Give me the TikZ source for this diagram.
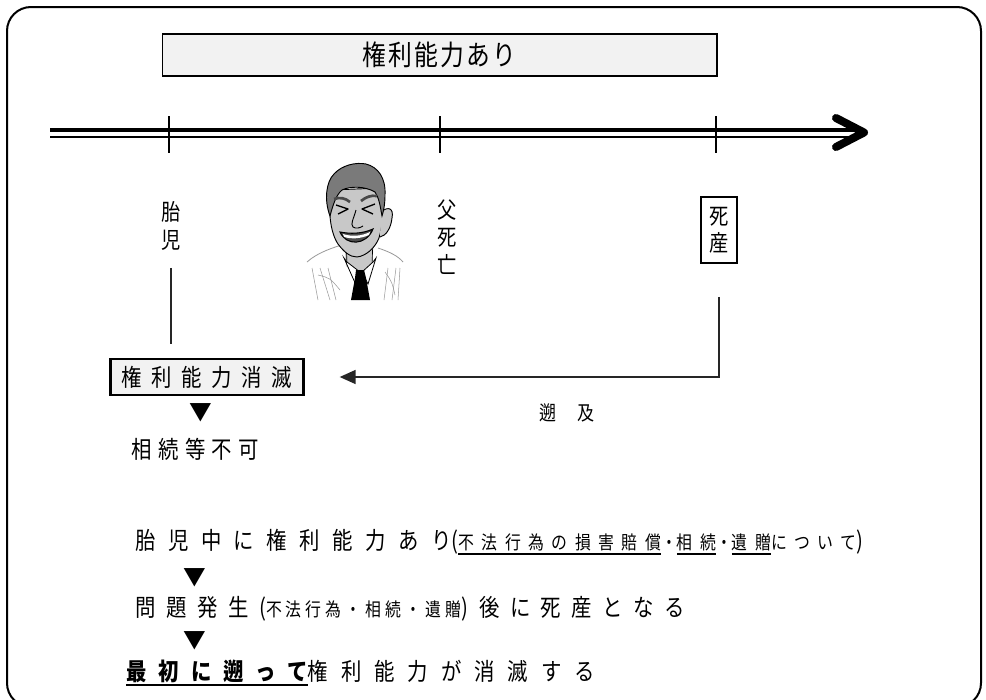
\documentclass[tikz,border=0pt]{standalone}
\usepackage{fontspec}
\newfontfamily\jp{Noto Sans CJK JP}[FakeStretch=0.85]
\newfontfamily\jpn{Noto Sans CJK JP}
\usetikzlibrary{arrows.meta}
\definecolor{boxgray}{HTML}{F2F2F2}
\definecolor{hair}{HTML}{7A7A7A}
\definecolor{skin}{HTML}{C8C8C8}
\definecolor{shirtline}{HTML}{9A9A9A}
\newcommand\ulx[1]{\setbox0\hbox{#1}\rlap{\rule[-4pt]{\wd0}{1.6pt}}\box0}
\newcommand\fbig{\jp\fontsize{18pt}{22pt}\selectfont\addfontfeature{LetterSpace=44}}
\newcommand\fsmall{\jp\fontsize{14pt}{18pt}\selectfont\addfontfeature{LetterSpace=22}}
\newcommand\fbold{\jp\bfseries\fontsize{18pt}{22pt}\selectfont\addfontfeature{LetterSpace=50}}
\tikzset{
  vlabel/.style={font=\jp\fontsize{17pt}{20.5pt}\selectfont, align=center, inner sep=0pt},
  lineText/.style={anchor=west, inner sep=0pt},
  tri/.style={font=\jpn\fontsize{17pt}{20pt}\selectfont, inner sep=0pt},
  conn/.style={line width=1.2pt, draw=black!85},
}
\begin{document}
\begin{tikzpicture}[x=0.75pt,y=-0.75pt]
\useasboundingbox (0,0) rectangle (986,700);
% frame
\draw[line width=1.5pt, rounded corners=18pt] (7,7) rectangle (981,707);

% top box
\node[draw, fill=boxgray, line width=1pt, minimum width=416pt, minimum height=31.5pt,
      font=\jp\fontsize{21pt}{24pt}\selectfont\addfontfeature{LetterSpace=8}] (topbox) at (439.5,55) {権利能力あり};

% timeline
\draw[line width=2.3pt] (50,130) -- (858,130);
\draw[line width=1.9pt] (50,137) -- (858,137);
\draw[line width=6pt, line cap=round, line join=round] (836,118) -- (864,132.5) -- (836,147);
\foreach \tx in {169,440,716} \draw[line width=1pt] (\tx,116) -- (\tx,153);

% vertical labels
\node[vlabel] (taiji) at (171,226) {胎\\児};
\node[vlabel] (chichi) at (447,237) {父\\死\\亡};
\node[vlabel, draw, line width=1.4pt, inner sep=3pt, minimum width=27pt, minimum height=49pt] (shisan) at (719,230) {死\\産};

% man illustration
\begin{scope}
  % shirt
  \fill[white] (305,300) -- (307,262) .. controls (318,252) and (335,247) .. (345,244)
     -- (378,248) .. controls (390,252) and (398,256) .. (403,262) -- (405,300) -- cycle;
  \draw[shirtline, line width=0.6pt] (307,262) .. controls (318,252) and (335,247) .. (345,244);
  \draw[shirtline, line width=0.6pt] (378,248) .. controls (390,252) and (398,256) .. (403,262);
  \foreach \sx/\ex in {312/318,320/330,328/336,388/384,396/392,400/398}
     \draw[shirtline, line width=0.4pt] (\sx,268) -- (\ex,300);
  \draw[shirtline, line width=0.4pt] (318,275) .. controls (330,278) .. (340,290);
  \draw[shirtline, line width=0.4pt] (385,272) .. controls (392,282) .. (395,295);
  % neck
  \fill[skin] (344,238) -- (374,238) -- (372,268) -- (358,276) -- (346,266) -- cycle;
  \draw[line width=0.5pt] (346,240) -- (347,264);
  \draw[line width=0.5pt] (373,238) -- (372,266);
  % collar
  \draw[fill=white, line width=0.6pt] (344,258) -- (356,285) -- (360,272) -- (347,262) -- cycle;
  \draw[fill=white, line width=0.6pt] (376,258) -- (368,284) -- (362,272) -- (373,262) -- cycle;
  % tie
  \fill[black] (356,270) -- (364,270) -- (366,278) -- (370,300) -- (351,300) -- (355,278) -- cycle;
  % face
  \draw[fill=skin, line width=0.7pt] (331,190) .. controls (328,210) and (330,232) .. (338,244)
     .. controls (344,252) and (350,257) .. (357,257)
     .. controls (366,256) and (375,248) .. (379,238)
     .. controls (383,225) and (384,205) .. (381,188) -- cycle;
  % ear
  \draw[fill=skin, line width=0.7pt] (381,212) .. controls (388,206) and (394,208) .. (392,218)
     .. controls (391,228) and (386,236) .. (380,237);
  % hair
  \draw[fill=hair, line width=0.7pt] (330,216) .. controls (324,200) and (326,182) .. (334,174)
     .. controls (342,165) and (356,162) .. (366,164)
     .. controls (378,167) and (386,178) .. (385,195)
     .. controls (385,203) and (384,210) .. (382,216)
     .. controls (380,205) and (379,198) .. (375,192)
     .. controls (365,186) and (350,186) .. (342,190)
     .. controls (336,195) and (333,205) .. (330,216) -- cycle;
  % eyebrows
  \draw[line width=2pt, hair!60!black] (334,199) .. controls (340,197) and (345,198) .. (350,202);
  \draw[line width=2pt, hair!60!black] (361,201) .. controls (366,197) and (371,195) .. (377,196);
  % eyes
  \draw[line width=1pt, line join=round] (336,205) -- (348,209) -- (338,214);
  \draw[line width=1pt, line join=round] (375,204) -- (362,209) -- (373,214);
  % nose
  \draw[line width=0.7pt] (356,210) .. controls (354,218) and (350,224) .. (353,227) .. controls (356,229) and (360,228) .. (363,226);
  % mouth
  \draw[fill=black!70, line width=0.8pt] (340,232) .. controls (346,246) and (366,246) .. (373,229)
     .. controls (362,234) and (350,234) .. (340,232) -- cycle;
  \fill[white] (343,234) .. controls (352,237) and (362,236) .. (370,232) -- (369,235) .. controls (360,239) and (351,239) .. (344,237) -- cycle;
\end{scope}

% box 権利能力消滅
\node[draw, fill=boxgray, line width=2pt, minimum width=145pt, minimum height=27pt, inner sep=2pt,
      font=\fbig\addfontfeature{LetterSpace=40}] (kenri) at (207,377) {権利能力消滅};

% connectors
\draw[conn, shorten <=13pt, shorten >=10.5pt] (taiji.south) -- (taiji.south |- kenri.north);
\draw[conn, -{Triangle[length=12pt,width=10.5pt]}, shorten <=25pt, shorten >=26pt]
   (shisan.south) |- (kenri.east);

% 遡及
\node[font=\jp\fontsize{15pt}{18pt}\selectfont, inner sep=0pt] (sokyu) at (567,413) {遡\hspace{16pt}及};

% triangles and lines
\node[tri] (t1) at (201,413) {▼};
\node[lineText, font=\fbig\addfontfeature{LetterSpace=27}] (l0) at (131,449) {相続等不可};

\node[lineText] (l1) at (135,542) {\fbig\addfontfeature{LetterSpace=52}胎児中に権利能力あり\fbig(\fsmall\addfontfeature{LetterSpace=40}\ulx{不法行為の損害賠償}・\ulx{相続}・\ulx{遺贈}について\fbig )};
\node[tri] (t2) at (195,578) {▼};
\node[lineText] (l2) at (135,609) {\fbig 問題発生(\fsmall 不法行為・相続・遺贈\fbig )後に死産となる};
\node[tri] (t3) at (195,641) {▼};
\node[lineText] (l3) at (126,673) {\ulx{\fbold 最初に遡って}\fbig\addfontfeature{LetterSpace=54}権利能力が消滅する};
\end{tikzpicture}
\end{document}
